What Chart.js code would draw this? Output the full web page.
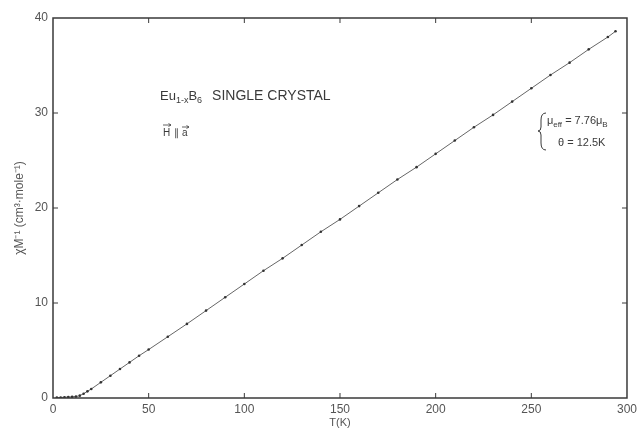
<!DOCTYPE html>
<html>
<head>
<meta charset="utf-8">
<script src="https://cdn.jsdelivr.net/npm/chart.js@4.4.0/dist/chart.umd.min.js"></script>
<style>
  html, body { margin: 0; padding: 0; background: #fff; }
  #wrap { width: 641px; height: 430px; }
</style>
</head>
<body>
<div id="wrap"><canvas id="chart"></canvas></div>
<script>
// temperature (K) and inverse susceptibility
const temps = [2, 4, 6, 8, 10, 12, 14, 16, 18, 20, 25, 30, 35, 40, 45, 50, 60, 70, 80, 90,
  100, 110, 120, 130, 140, 150, 160, 170, 180, 190, 200, 210, 220, 230, 240, 250, 260, 270, 280, 290, 294];
const invChi = [0.05, 0.05, 0.08, 0.1, 0.12, 0.15, 0.25, 0.45, 0.7, 0.95, 1.65, 2.35, 3.05, 3.75, 4.45, 5.1,
  6.45, 7.8, 9.2, 10.6, 12.0, 13.4, 14.7, 16.1, 17.5, 18.8, 20.2, 21.6, 23.0, 24.3, 25.7,
  27.1, 28.5, 29.8, 31.2, 32.6, 34.0, 35.3, 36.7, 38.0, 38.6];
const xTicks = [0, 50, 100, 150, 200, 250, 300];
const yTicks = [0, 10, 20, 30, 40];

const ink = "#3a3a3a";
const fontFam = "'Liberation Sans', Arial, sans-serif";

const points = temps.map((t, i) => ({ x: t, y: invChi[i] }));

// small arrow drawn over a letter (vector sign)
function vecArrow(ctx, x, y, w) {
  ctx.beginPath();
  ctx.moveTo(x, y); ctx.lineTo(x + w, y);
  ctx.moveTo(x + w - 2.5, y - 1.5); ctx.lineTo(x + w, y); ctx.lineTo(x + w - 2.5, y + 1.5);
  ctx.stroke();
}

// writes [text, isSub] pieces one after another
function runText(ctx, parts, x, y, size) {
  parts.forEach(([t, sub]) => {
    ctx.font = (sub ? Math.round(size * 0.7) : size) + "px " + fontFam;
    ctx.fillText(t, x, sub ? y + 3 : y);
    x += ctx.measureText(t).width;
  });
  return x;
}

// frame, inward ticks and the text notes
const framePlugin = {
  id: "frame",
  afterDraw(chart) {
    const { ctx, chartArea: a, scales } = chart;
    ctx.save();
    ctx.strokeStyle = ink;
    ctx.lineWidth = 1.5;
    ctx.strokeRect(a.left, a.top, a.right - a.left, a.bottom - a.top);
    ctx.lineWidth = 1;
    xTicks.slice(1, -1).forEach((v) => {
      const px = scales.x.getPixelForValue(v);
      ctx.beginPath();
      ctx.moveTo(px, a.bottom); ctx.lineTo(px, a.bottom - 5);
      ctx.moveTo(px, a.top); ctx.lineTo(px, a.top + 5);
      ctx.stroke();
    });
    yTicks.slice(1, -1).forEach((v) => {
      const py = scales.y.getPixelForValue(v);
      ctx.beginPath();
      ctx.moveTo(a.left, py); ctx.lineTo(a.left + 5, py);
      ctx.moveTo(a.right, py); ctx.lineTo(a.right - 5, py);
      ctx.stroke();
    });

    ctx.fillStyle = ink;
    ctx.textBaseline = "alphabetic";
    // Eu1-xB6 SINGLE CRYSTAL
    let x = runText(ctx, [["Eu", 0], ["1-x", 1], ["B", 0], ["6", 1]], 160, 100, 13);
    ctx.font = "14px " + fontFam;
    ctx.fillText("SINGLE CRYSTAL", x + 10, 100);

    // H || a with vector arrows
    ctx.font = "10px " + fontFam;
    ctx.fillText("H", 163, 136);
    ctx.fillText("\u2225", 174, 136);
    ctx.fillText("a", 182, 136);
    ctx.lineWidth = 0.8;
    vecArrow(ctx, 163, 125, 8);
    vecArrow(ctx, 182, 127, 7);
    ctx.lineWidth = 1;

    // fit parameters
    runText(ctx, [["\u03BC", 0], ["eff", 1], [" = 7.76\u03BC", 0], ["B", 1]], 547, 124, 11);
    runText(ctx, [["\u03B8 = 12.5K", 0]], 558, 146, 11);
    ctx.beginPath();
    ctx.moveTo(546, 113);
    ctx.quadraticCurveTo(541, 113, 541, 120);
    ctx.lineTo(541, 127);
    ctx.quadraticCurveTo(541, 131, 538, 131);
    ctx.quadraticCurveTo(541, 131, 541, 135);
    ctx.lineTo(541, 143);
    ctx.quadraticCurveTo(541, 150, 546, 150);
    ctx.stroke();
    ctx.restore();
  },
};

new Chart("chart", {
  type: "scatter",
  data: {
    datasets: [
      {
        data: points,
        showLine: true,
        borderColor: "#666",
        borderWidth: 1,
        pointRadius: 1.3,
        pointBackgroundColor: "#333",
        pointBorderWidth: 0,
      },
    ],
  },
  options: {
    responsive: true,
    maintainAspectRatio: false,
    animation: false,
    layout: { padding: { left: 8, right: 12, top: 18, bottom: 0 } },
    plugins: {
      legend: { display: false },
      tooltip: { enabled: false },
    },
    scales: {
      x: {
        type: "linear",
        min: 0,
        max: 300,
        afterBuildTicks: (s) => { s.ticks = xTicks.map((v) => ({ value: v })); },
        afterFit: (s) => { s.height = 32; },
        grid: { display: false, drawTicks: false },
        border: { display: false },
        ticks: { color: "#555", padding: 4, font: { size: 12, family: fontFam } },
        title: {
          display: true,
          text: "T(K)",
          color: "#555",
          padding: { top: 0, bottom: 0 },
          font: { size: 11, family: fontFam },
        },
      },
      y: {
        type: "linear",
        min: 0,
        max: 40,
        afterBuildTicks: (s) => { s.ticks = yTicks.map((v) => ({ value: v })); },
        afterFit: (s) => { s.width = 45; },
        grid: { display: false, drawTicks: false },
        border: { display: false },
        ticks: { color: "#555", padding: 5, font: { size: 12, family: fontFam } },
        title: {
          display: true,
          text: "\u03C7M\u207B\u00B9 (cm\u00B3\u00B7mole\u207B\u00B9)",
          color: "#555",
          padding: { top: 4, bottom: 0 },
          font: { size: 12, family: fontFam },
        },
      },
    },
  },
  plugins: [framePlugin],
});
</script>
</body>
</html>
